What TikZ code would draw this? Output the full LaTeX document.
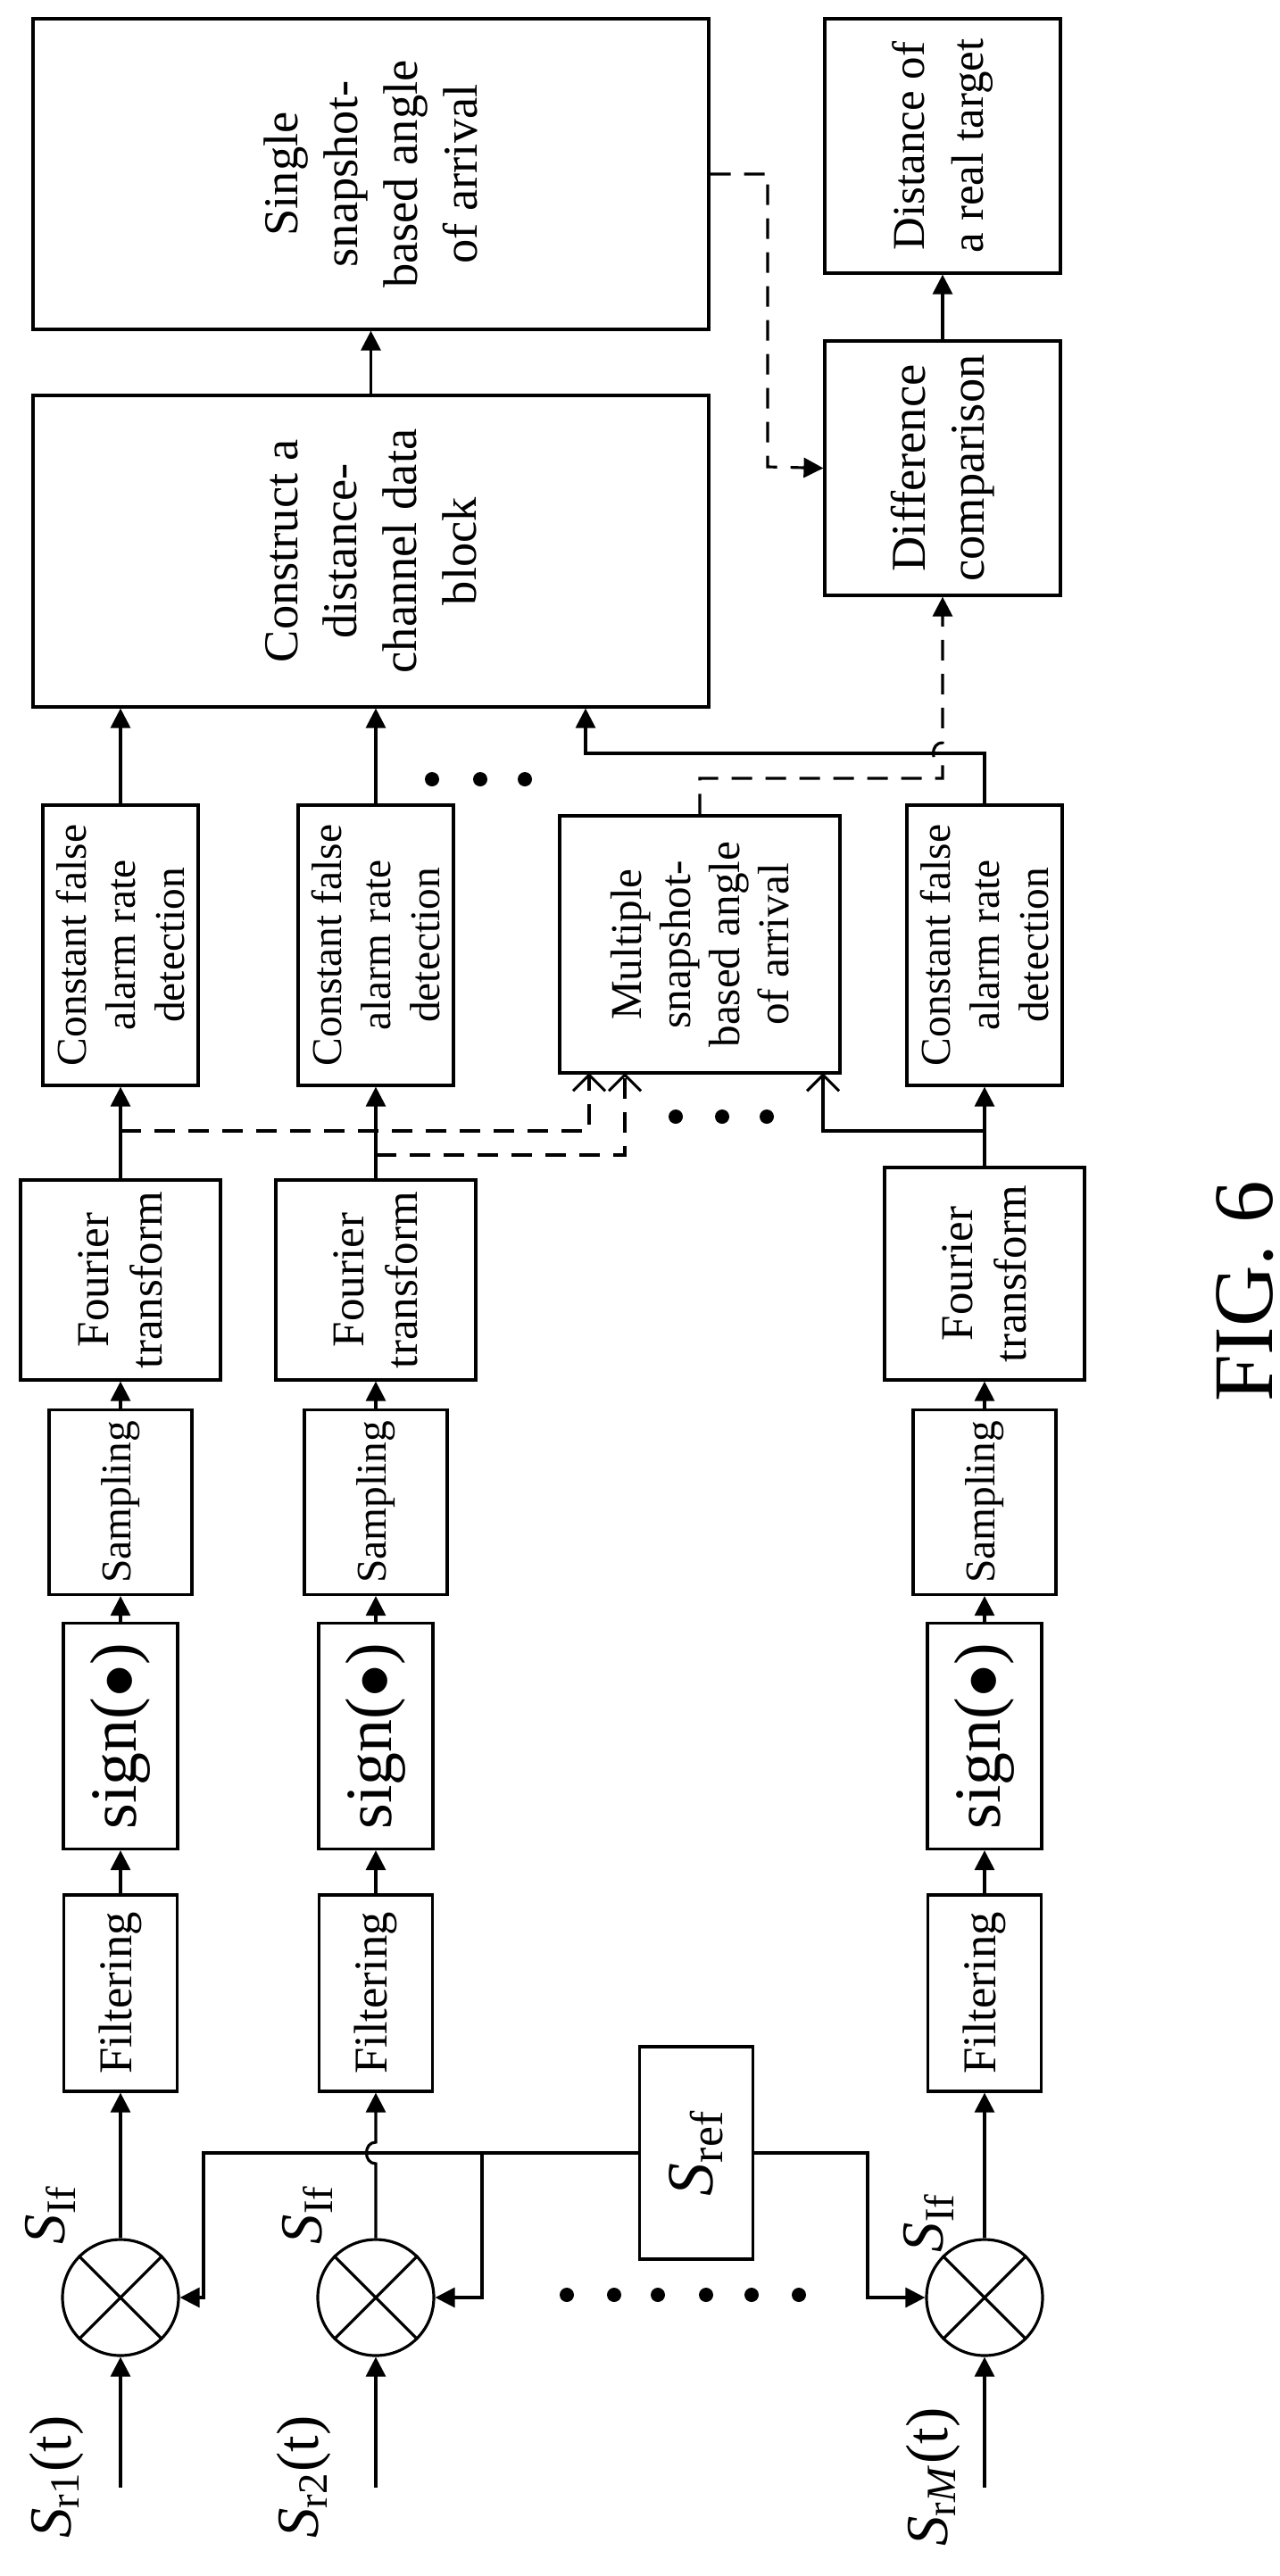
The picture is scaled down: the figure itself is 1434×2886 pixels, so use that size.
\documentclass[tikz,border=0pt]{standalone}
\usepackage{fontspec}
\setmainfont{Liberation Serif}
\usetikzlibrary{arrows.meta}
\begin{document}
\begin{tikzpicture}[x=0.1mm,y=-0.1mm,
  box/.style={draw,line width=0.9pt,inner sep=0pt},
  txt/.style={rotate=90,align=center,inner sep=0pt},
  big/.style={txt,font=\fontsize{15.5}{19}\selectfont},
  mid/.style={txt,font=\fontsize{13.5}{15.6}\selectfont},
  mix/.style={draw,line width=0.9pt,circle,minimum size=13mm,inner sep=0pt},
  ln/.style={line width=0.9pt},
  ar/.style={ln,-{Triangle[length=2.2mm,width=2.2mm]}},
  oa/.style={ln,-{Straight Barb[length=1.8mm,width=3.6mm]}},
  dsh/.style={dash pattern=on 2.3mm off 1.5mm},
  lab/.style={font=\fontsize{19}{22}\selectfont,inner sep=0pt},
  dot/.style={fill,circle,inner sep=0pt,minimum size=1.6mm}]
\useasboundingbox (0,0) rectangle (1434,2886);
% top blocks
\node[box,minimum width=75.7mm,minimum height=34.8mm] (single) at (415.5,195) {};
\node[big] (singlet) at (single) {Single\\snapshot-\\based angle\\of arrival};
\node[box,minimum width=75.7mm,minimum height=34.9mm] (construct) at (415.5,617.5) {};
\node[big] (constructt) at (construct) {Construct a\\distance-\\channel data\\block};
\node[box,minimum width=26.4mm,minimum height=28.5mm] (dist) at (1056,163.5) {};
\node[big,font=\fontsize{14.5}{19}\selectfont] (distt) at (dist) {Distance of\\a real target};
\node[box,minimum width=26.4mm,minimum height=28.5mm] (diff) at (1056,524.5) {};
\node[big] (difft) at (diff) {Difference\\comparison};
\node[box,minimum width=31.4mm,minimum height=28.8mm] (multi) at (784,1058) {};
\node[mid,font=\fontsize{14}{15.6}\selectfont] (multit) at (multi) {Multiple\\snapshot-\\based angle\\of arrival};
% columns
\foreach \n/\x/\fy/\fh in {1/135/1434/22.4, 2/421/1434/22.4, M/1103/1427/23.8}{
  \node[box,minimum width=17.4mm,minimum height=31.4mm] (cfar\n) at (\x,1059) {};
  \node[mid] (cfart\n) at (cfar\n) {Constant false\\alarm rate\\detection};
  \node[box,minimum width=22.4mm,minimum height=\fh mm] (four\n) at (\x,\fy) {};
  \node[txt,font=\fontsize{14.5}{17}\selectfont] (fourt\n) at (four\n) {Fourier\\transform};
  \node[box,minimum width=16mm,minimum height=20.7mm] (samp\n) at (\x,1683) {};
  \node[txt,font=\fontsize{13.5}{16}\selectfont] (sampt\n) at (samp\n) {Sampling};
  \node[box,minimum width=12.8mm,minimum height=25.3mm] (sign\n) at (\x,1945) {};
  \node[txt,font=\fontsize{21}{24}\selectfont] (signt\n) at (sign\n) {sign($\bullet$)};
  \node[box,minimum width=12.7mm,minimum height=22mm] (filt\n) at (\x,2233) {};
  \node[txt,font=\fontsize{15}{17}\selectfont] (filtt\n) at (filt\n) {Filtering};
  \node[mix] (mx\n) at (\x,2574) {};
  \draw[ln] (mx\n.north west) -- (mx\n.south east) (mx\n.north east) -- (mx\n.south west);
  \coordinate (in\n) at (\x,2787);
  \draw[ar] (in\n) -- (mx\n.south);
  \draw[ar] (filt\n.north) -- (sign\n.south);
  \draw[ar] (sign\n.north) -- (samp\n.south);
  \draw[ar] (samp\n.north) -- (four\n.south);
  \draw[ar] (four\n.north) -- (cfar\n.south);
}
\node[lab,rotate=90] (l1) at (63,2775) {\textit{S}\textsubscript{r1}(t)};
\node[lab,rotate=90] (l2) at (340,2775) {\textit{S}\textsubscript{r2}(t)};
\node[lab,rotate=90] (lM) at (1045,2775) {\textit{S}\textsubscript{r\textit{M}}(t)};
\node[lab,rotate=90] (f1) at (56,2481) {\textit{S}\textsubscript{If}};
\node[lab,rotate=90] (f2) at (344,2481) {\textit{S}\textsubscript{If}};
\node[lab,rotate=90] (fM) at (1040,2490) {\textit{S}\textsubscript{If}};
\node[box,minimum width=12.7mm,minimum height=23.8mm] (sref) at (780,2412) {};
\node[txt,font=\fontsize{21}{24}\selectfont] (sreft) at (sref) {\textit{S}\textsubscript{ref}};
\node[font=\fontsize{27}{30}\selectfont,rotate=90,inner sep=0pt] (fig) at (1395,1447) {FIG. 6};
% mixer outputs
\draw[ar] (mx1.north) -- (filt1.south);
\draw[ar] (mxM.north) -- (filtM.south);
\draw[ar] (mx2.north) -- (421,2424) .. controls (407,2424) and (407,2400) .. (421,2400) -- (filt2.south);
% reference distribution
\draw[ar] (sref.west) -- (228,2412) -- (228,2574) -- (mx1.east);
\draw[ar] (540,2412) -- (540,2574) -- (mx2.east);
\draw[ar] (sref.east) -- (972,2412) -- (972,2574) -- (mxM.west);
\foreach \x in {635,688,737,791,842,895} \node[dot] at (\x,2571) {};
% to construct
\draw[ar] (cfar1.north) -- (cfar1.north |- construct.south);
\draw[ar] (cfar2.north) -- (cfar2.north |- construct.south);
\coordinate (cj) at (656,844);
\draw[ar] (cfarM.north) -- (cfarM.north |- cj) -- (cj) -- (cj |- construct.south);
\foreach \x in {484,538,588} \node[dot] at (\x,873) {};
\draw[ar] (construct.north) -- (single.south);
\draw[ar] (diff.north) -- (dist.south);
% into multiple snapshot
\draw[oa,dsh] (135,1267) -- (660,1267) -- (660,1202);
\draw[oa,dsh] (421,1294) -- (700,1294) -- (700,1202);
\draw[oa] (1103,1267) -- (922,1267) -- (922,1202);
\foreach \x in {757,809,859} \node[dot] at (\x,1251) {};
% dashed outputs
\draw[ar,dsh] (multi.north) -- (784,872) -- (1056,872) -- (1056,856) .. controls (1042,856) and (1042,832) .. (1056,832) -- (diff.south);
\draw[ar,dsh] (single.east |- 0,195) -- (860,195) -- (860,523) -- (diff.west);
\end{tikzpicture}
\end{document}
